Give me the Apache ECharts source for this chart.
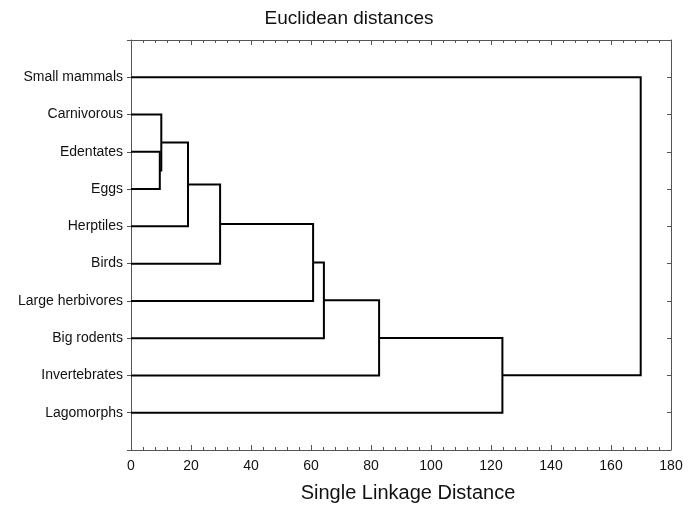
<!DOCTYPE html>
<html>
<head>
<meta charset="utf-8">
<script src="https://cdn.jsdelivr.net/npm/echarts@6/dist/echarts.min.js"></script>
<style>
  html, body { margin: 0; padding: 0; background: #fff; }
  #chart { width: 698px; height: 508px; }
</style>
</head>
<body>
<div id="chart"></div>
<script>
// leaves, top to bottom
var leaves = ['Small mammals', 'Carnivorous', 'Edentates', 'Eggs', 'Herptiles',
              'Birds', 'Large herbivores', 'Big rodents', 'Invertebrates', 'Lagomorphs'];
// merges: ids 0..9 are leaves, merge k makes cluster 10 + k
var mergeA = [2, 1, 11, 12, 13, 14, 15, 16, 0];
var mergeB = [3, 10, 4, 5, 6, 7, 8, 9, 17];
var mergeDist = [9.6, 10.1, 19.0, 29.7, 60.7, 64.3, 82.7, 123.8, 169.9];
var xTicks = [0, 20, 40, 60, 80, 100, 120, 140, 160, 180];

// node positions: y = leaf slot (1-based), x = merge distance
var nodeY = leaves.map((n, i) => i + 1);
var nodeX = leaves.map(() => 0);
var links = [];
for (var k = 0; k < mergeDist.length; k++) {
    var a = mergeA[k], b = mergeB[k], h = mergeDist[k];
    links.push({coords: [[nodeX[a], nodeY[a]], [h, nodeY[a]], [h, nodeY[b]], [nodeX[b], nodeY[b]]]});
    nodeX.push(h);
    nodeY.push((nodeY[a] + nodeY[b]) / 2);
}

var font = '"Liberation Sans", Arial, sans-serif';
var axisCol = '#555';

var chart = echarts.init(document.getElementById('chart'));
function yAxisOf(pos, inside, labels) {
    return {
        type: 'value', min: 0, max: leaves.length + 1, interval: 1, inverse: true,
        position: pos,
        splitLine: {show: false},
        axisLine: {show: true, onZero: false, lineStyle: {color: axisCol, width: 1}},
        axisTick: {show: true, inside: inside, length: 4, lineStyle: {color: axisCol}},
        axisLabel: labels ? {
            fontFamily: font, fontSize: 14, color: '#111', margin: 8,
            formatter: v => leaves[v - 1] || ''
        } : {show: false}
    };
}
// major = labelled axis every 20, minor = bare tick axis every 4
function xAxisOf(pos, labels, minor) {
    var ax = {
        type: 'value', min: xTicks[0], max: xTicks[xTicks.length - 1],
        interval: minor ? 4 : 20,
        position: pos,
        splitLine: {show: false},
        axisLine: {show: !minor, onZero: false, lineStyle: {color: axisCol, width: 1}},
        axisTick: {show: true, inside: true, length: minor ? 3 : 5, lineStyle: {color: axisCol}},
        axisLabel: {show: false}
    };
    if (labels) {
        ax.name = 'Single Linkage Distance';
        ax.nameLocation = 'middle';
        ax.nameGap = 33;
        ax.nameTextStyle = {fontFamily: font, fontSize: 20, color: '#111', padding: [0, 0, 0, 14]};
        ax.axisLabel = {fontFamily: font, fontSize: 14, color: '#111', margin: 9};
    }
    return ax;
}
chart.setOption({
    animation: false,
    backgroundColor: '#fff',
    title: {
        text: 'Euclidean distances', left: 'center', top: 4,
        textStyle: {fontFamily: font, fontSize: 19, fontWeight: 'normal', color: '#111'}
    },
    grid: {left: 131, right: 27, top: 40, bottom: 58},
    xAxis: [
        xAxisOf('bottom', true, false), xAxisOf('top', false, false),
        xAxisOf('bottom', false, true), xAxisOf('top', false, true)
    ],
    yAxis: [yAxisOf('left', false, true), yAxisOf('right', true, false)],
    series: [{
        type: 'lines',
        coordinateSystem: 'cartesian2d',
        xAxisIndex: 0, yAxisIndex: 0,
        polyline: true,
        silent: true,
        lineStyle: {color: '#000', width: 2, opacity: 1},
        data: links
    }]
});
</script>
</body>
</html>
